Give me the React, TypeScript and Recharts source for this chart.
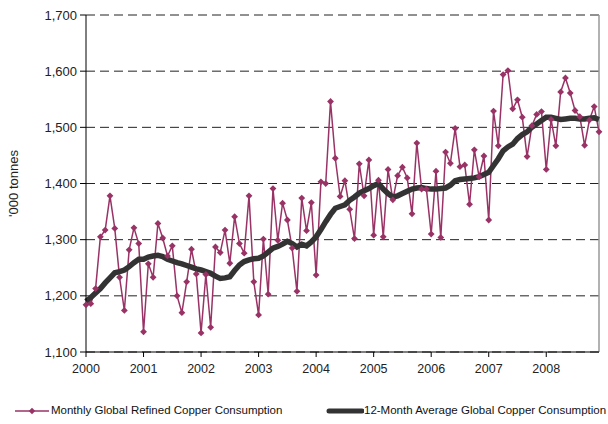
import React from 'react';
import { LineChart, Line, XAxis, YAxis, CartesianGrid, ReferenceLine } from 'recharts';

const monthly = [
  1184, 1186, 1213, 1305, 1317, 1378, 1320, 1233, 1174, 1282, 1321, 1293,
  1136, 1257, 1233, 1329, 1303, 1271, 1289, 1200, 1170, 1225, 1283, 1239,
  1134, 1238, 1144, 1287, 1277, 1317, 1258, 1341, 1293, 1276, 1378, 1225,
  1166, 1301, 1203, 1391, 1299, 1365, 1335, 1285, 1208, 1374, 1316, 1366,
  1237, 1403, 1400, 1546, 1445, 1377, 1405, 1354, 1302, 1435, 1378, 1442,
  1308, 1406, 1305, 1425, 1371, 1414, 1429, 1410, 1346, 1472, 1390, 1390,
  1310, 1422, 1304, 1456, 1436, 1498, 1430, 1433, 1363, 1460, 1412, 1449,
  1335, 1529, 1467, 1594, 1601, 1533, 1549, 1518, 1448, 1503, 1523, 1528,
  1425, 1514, 1467, 1563, 1588, 1561, 1530, 1519, 1468, 1513, 1537, 1492,
];

const average = [
  1190, 1197, 1205, 1213, 1223, 1232, 1241, 1243, 1246, 1252, 1259, 1265,
  1265, 1269, 1271, 1272, 1270, 1265, 1262, 1259, 1257, 1254, 1251, 1248,
  1246, 1243, 1240, 1235, 1231, 1232, 1234, 1245, 1255, 1261, 1264, 1266,
  1267, 1271, 1278, 1285, 1288, 1292, 1297, 1293, 1287, 1292, 1289, 1296,
  1305, 1318, 1332, 1345, 1356, 1359, 1362, 1370, 1376, 1383, 1387, 1391,
  1396, 1400, 1390, 1382, 1376, 1378, 1382, 1386, 1390, 1392, 1393, 1391,
  1390, 1390, 1391, 1392, 1397, 1405, 1407, 1408, 1409, 1410, 1412, 1416,
  1420, 1432, 1444, 1458, 1465, 1470, 1480, 1487, 1492, 1500, 1506, 1512,
  1518, 1518, 1516, 1514, 1515, 1516, 1516, 1515, 1515, 1516, 1517, 1514,
];

const yearTicks = [0, 12, 24, 36, 48, 60, 72, 84, 96];
const yearLabels = ['2000', '2001', '2002', '2003', '2004', '2005', '2006', '2007', '2008'];
const valueTicks = [1100, 1200, 1300, 1400, 1500, 1600, 1700];

const seriesNames = [
  'Monthly Global Refined Copper Consumption',
  '12-Month Average Global Copper Consumption',
];

const data = monthly.map((v, i) => ({ month: i, monthly: v, avg: average[i] }));

const PINK = '#993366';
const DARK = '#333333';
const FONT = '"Liberation Sans", Arial, sans-serif';

const Diamond = (props: any) => {
  const { cx, cy, index } = props;
  if (cx == null || cy == null) return <g key={`d${index}`} />;
  const r = 3.4;
  return (
    <path
      key={`d${index}`}
      d={`M${cx},${cy - r}L${cx + r},${cy}L${cx},${cy + r}L${cx - r},${cy}Z`}
      fill={PINK}
      stroke="none"
    />
  );
};

const YLabel = (props: any) => {
  const vb = props.viewBox || {};
  const cy = (vb.y ?? 15) + (vb.height ?? 337) / 2;
  const cx = 13;
  return (
    <text
      x={cx}
      y={cy}
      transform={`rotate(-90, ${cx}, ${cy})`}
      textAnchor="middle"
      dominantBaseline="central"
      fontSize={13}
      fontFamily={FONT}
      fill="#222"
    >
      {"'000 tonnes"}
    </text>
  );
};

export default function App() {
  return (
    <div style={{ position: 'absolute', left: 0, top: 0, width: 608, height: 424, background: '#fff' }}>
      <LineChart
        width={608}
        height={424}
        data={data}
        margin={{ top: 15, right: 9, bottom: 42, left: 0 }}
      >
        <CartesianGrid vertical={false} stroke="#222" strokeDasharray="9 5" />
        <XAxis
          dataKey="month"
          type="number"
          domain={[0, 107]}
          ticks={yearTicks}
          tickFormatter={(v: number) => yearLabels[yearTicks.indexOf(v)] ?? ''}
          height={30}
          tickSize={5}
          tickMargin={7}
          stroke="#000"
          tick={{ fill: '#222', fontSize: 12.5, fontFamily: FONT }}
          interval={0}
        />
        <YAxis
          type="number"
          domain={[1100, 1700]}
          ticks={valueTicks}
          width={86}
          tickSize={6}
          tickMargin={3}
          stroke="#000"
          tickFormatter={(v: number) => v.toLocaleString('en-US')}
          tick={{ fill: '#222', fontSize: 13, fontFamily: FONT }}
          interval={0}
          label={<YLabel />}
        />
        <ReferenceLine x={107} stroke="#999" strokeWidth={1.5} />
        <Line
          type="linear"
          dataKey="monthly"
          stroke={PINK}
          strokeWidth={1.5}
          dot={Diamond}
          activeDot={false}
          isAnimationActive={false}
        />
        <Line
          type="linear"
          dataKey="avg"
          stroke={DARK}
          strokeWidth={5.5}
          dot={false}
          activeDot={false}
          isAnimationActive={false}
        />
      </LineChart>
      <div
        style={{
          position: 'absolute',
          left: 0,
          top: 403,
          width: 608,
          height: 16,
          fontFamily: FONT,
          fontSize: 11.5,
          color: '#111',
        }}
      >
        <svg style={{ position: 'absolute', left: 14, top: 2 }} width={36} height={12}>
          <line x1={1} y1={6} x2={35} y2={6} stroke={PINK} strokeWidth={1.5} />
          <path d="M18,2.8L21.2,6L18,9.2L14.8,6Z" fill={PINK} />
        </svg>
        <span style={{ position: 'absolute', left: 51, top: 1, whiteSpace: 'nowrap' }}>{seriesNames[0]}</span>
        <svg style={{ position: 'absolute', left: 326, top: 2 }} width={38} height={12}>
          <line x1={3} y1={6} x2={36} y2={6} stroke={DARK} strokeWidth={5} strokeLinecap="round" />
        </svg>
        <span style={{ position: 'absolute', left: 364, top: 1, whiteSpace: 'nowrap' }}>{seriesNames[1]}</span>
      </div>
    </div>
  );
}
